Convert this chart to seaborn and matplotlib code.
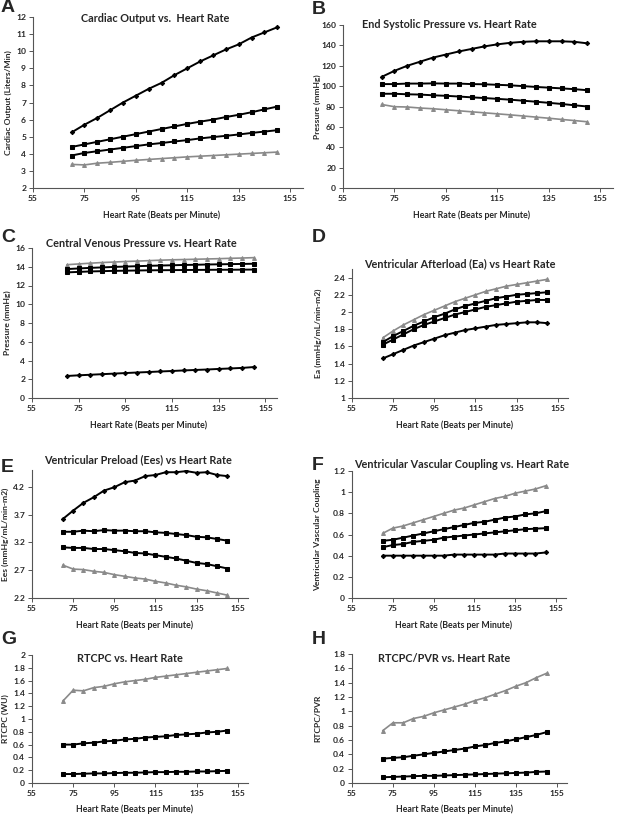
import numpy as np
import pandas as pd
import matplotlib
matplotlib.use("Agg")
import matplotlib.pyplot as plt
import seaborn as sns
from matplotlib.ticker import FuncFormatter

sns.set_theme(style="white")
plt.rcParams['font.family'] = ['Lato', 'DejaVu Sans']

heart_rate = [70, 75, 80, 85, 90, 95, 100, 105, 110, 115, 120, 125, 130, 135, 140, 145, 150]

# A: Cardiac output
co_diamond = [5.25, 5.7, 6.1, 6.55, 7.0, 7.4, 7.8, 8.15, 8.6, 9.0, 9.4, 9.75, 10.1, 10.4, 10.8, 11.1, 11.4]
co_square1 = [4.4, 4.55, 4.7, 4.85, 5.0, 5.15, 5.3, 5.45, 5.6, 5.75, 5.88, 6.0, 6.15, 6.28, 6.43, 6.6, 6.76]
co_square2 = [3.9, 4.05, 4.15, 4.25, 4.35, 4.45, 4.55, 4.63, 4.72, 4.8, 4.9, 4.98, 5.05, 5.13, 5.22, 5.3, 5.38]
co_triangle = [3.38, 3.35, 3.45, 3.5, 3.56, 3.62, 3.67, 3.72, 3.77, 3.82, 3.86, 3.9, 3.94, 3.98, 4.02, 4.06, 4.1]

# B: End systolic pressure
esp_diamond = [109, 115, 120, 124, 128, 131, 134, 136.5, 139, 141, 142.5, 143.5, 144, 144, 144, 143.5, 142]
esp_square1 = [102, 102, 102.5, 102.5, 102.7, 102.5, 102.5, 102, 101.8, 101.3, 100.8, 100, 99.2, 98.5, 97.8, 97, 96]
esp_square2 = [92.5, 92.5, 92, 91.7, 91, 90.5, 89.8, 89, 88.3, 87.5, 86.7, 85.7, 84.7, 83.6, 82.5, 81.2, 80]
esp_triangle = [82, 79.8, 79.5, 78.5, 77.8, 76.8, 75.8, 74.8, 73.8, 72.8, 71.8, 70.7, 69.6, 68.5, 67.3, 66.2, 65]

# C: Central venous pressure
cvp_triangle = [14.22, 14.3, 14.38, 14.45, 14.5, 14.56, 14.6, 14.65, 14.7, 14.74, 14.77, 14.8, 14.83, 14.86, 14.9, 14.93, 14.97]
cvp_square1 = [13.75, 13.82, 13.88, 13.93, 13.98, 14.02, 14.06, 14.1, 14.13, 14.16, 14.19, 14.21, 14.24, 14.26, 14.28, 14.3, 14.32]
cvp_square2 = [13.4, 13.45, 13.5, 13.53, 13.56, 13.58, 13.6, 13.62, 13.63, 13.64, 13.65, 13.66, 13.67, 13.68, 13.68, 13.69, 13.7]
cvp_diamond = [2.35, 2.42, 2.48, 2.54, 2.6, 2.66, 2.72, 2.77, 2.83, 2.88, 2.94, 2.99, 3.04, 3.1, 3.15, 3.21, 3.3]

# D: Ventricular afterload (Ea)
ea_triangle = [1.70, 1.78, 1.85, 1.91, 1.97, 2.02, 2.07, 2.12, 2.16, 2.20, 2.24, 2.27, 2.30, 2.32, 2.34, 2.36, 2.38]
ea_square1 = [1.65, 1.72, 1.78, 1.84, 1.89, 1.94, 1.98, 2.03, 2.07, 2.10, 2.13, 2.16, 2.18, 2.20, 2.21, 2.22, 2.23]
ea_square2 = [1.62, 1.68, 1.74, 1.80, 1.85, 1.89, 1.93, 1.97, 2.00, 2.03, 2.06, 2.08, 2.10, 2.12, 2.13, 2.14, 2.14]
ea_diamond = [1.46, 1.51, 1.56, 1.61, 1.65, 1.69, 1.73, 1.76, 1.79, 1.81, 1.83, 1.85, 1.86, 1.87, 1.88, 1.88, 1.87]

# E: Ventricular preload (Ees)
ees_diamond = [3.62, 3.77, 3.91, 4.01, 4.13, 4.19, 4.28, 4.31, 4.39, 4.41, 4.46, 4.46, 4.48, 4.45, 4.46, 4.41, 4.39]
ees_square1 = [3.39, 3.39, 3.41, 3.40, 3.42, 3.41, 3.41, 3.40, 3.40, 3.38, 3.37, 3.35, 3.33, 3.30, 3.29, 3.26, 3.23]
ees_square2 = [3.11, 3.10, 3.10, 3.08, 3.08, 3.06, 3.04, 3.01, 3.00, 2.97, 2.94, 2.91, 2.87, 2.83, 2.81, 2.77, 2.73]
ees_triangle = [2.79, 2.72, 2.71, 2.68, 2.66, 2.62, 2.59, 2.56, 2.54, 2.50, 2.47, 2.43, 2.40, 2.36, 2.33, 2.29, 2.25]

# F: Ventricular vascular coupling
vvc_triangle = [0.61, 0.66, 0.68, 0.71, 0.74, 0.77, 0.80, 0.83, 0.85, 0.88, 0.91, 0.94, 0.96, 0.99, 1.01, 1.03, 1.06]
vvc_square1 = [0.54, 0.55, 0.57, 0.59, 0.61, 0.63, 0.65, 0.67, 0.69, 0.71, 0.72, 0.74, 0.76, 0.77, 0.79, 0.80, 0.82]
vvc_square2 = [0.48, 0.50, 0.51, 0.53, 0.54, 0.55, 0.57, 0.58, 0.59, 0.60, 0.61, 0.62, 0.63, 0.64, 0.65, 0.655, 0.66]
vvc_diamond = [0.40, 0.40, 0.40, 0.40, 0.40, 0.40, 0.40, 0.41, 0.41, 0.41, 0.41, 0.41, 0.42, 0.42, 0.42, 0.42, 0.43]

# G: RTCPC
rtcpc_triangle = [1.28, 1.45, 1.44, 1.49, 1.51, 1.55, 1.58, 1.60, 1.62, 1.65, 1.67, 1.69, 1.71, 1.73, 1.75, 1.77, 1.79]
rtcpc_square1 = [0.60, 0.60, 0.62, 0.63, 0.65, 0.66, 0.68, 0.69, 0.71, 0.72, 0.73, 0.75, 0.76, 0.77, 0.79, 0.80, 0.82]
rtcpc_square2 = [0.14, 0.14, 0.145, 0.15, 0.15, 0.155, 0.16, 0.16, 0.165, 0.17, 0.17, 0.175, 0.175, 0.18, 0.18, 0.185, 0.19]

# H: RTCPC/PVR
rp_triangle = [0.73, 0.84, 0.84, 0.90, 0.93, 0.98, 1.02, 1.06, 1.10, 1.15, 1.19, 1.24, 1.29, 1.35, 1.40, 1.47, 1.53]
rp_square1 = [0.34, 0.35, 0.36, 0.38, 0.40, 0.42, 0.44, 0.46, 0.48, 0.51, 0.53, 0.56, 0.58, 0.61, 0.64, 0.67, 0.71]
rp_square2 = [0.08, 0.085, 0.09, 0.095, 0.10, 0.10, 0.105, 0.11, 0.115, 0.12, 0.125, 0.13, 0.135, 0.14, 0.145, 0.155, 0.16]

x_ticks = [55, 75, 95, 115, 135, 155]
x_label = "Heart Rate (Beats per Minute)"

W, H = 622, 814
fig = plt.figure(figsize=(W / 100, H / 100), dpi=100)

STYLES = {
    'diamond': dict(color='black', marker='D', markersize=2.2, linewidth=1.4),
    'square': dict(color='black', marker='s', markersize=3.4, linewidth=1.4),
    'triangle': dict(color='#8a8a8a', marker='^', markersize=2.8, linewidth=1.2),
}

fmt = FuncFormatter(lambda v, p: f"{round(v, 6):g}")


def panel(rect, series, ylim, yticks, title, title_xy, ylabel, ylabel_x, letter, letter_xy, xlabel_y):
    l, r, t, b = rect
    ax = fig.add_axes([l / W, 1 - b / H, (r - l) / W, (b - t) / H])
    for kind, vals in series:
        df = pd.DataFrame({'hr': heart_rate, 'v': vals})
        st = STYLES[kind]
        sns.lineplot(data=df, x='hr', y='v', ax=ax, color=st['color'], marker=st['marker'],
                     markersize=st['markersize'], linewidth=st['linewidth'],
                     markeredgecolor=st['color'], markerfacecolor=st['color'])
    ax.set_xlim(55, 160)
    ax.set_ylim(*ylim)
    ax.set_xticks(x_ticks)
    ax.set_yticks(yticks)
    ax.yaxis.set_major_formatter(fmt)
    ax.set_xlabel('')
    ax.set_ylabel('')
    for s in ['top', 'right']:
        ax.spines[s].set_visible(False)
    for s in ['left', 'bottom']:
        ax.spines[s].set_color('#555555')
        ax.spines[s].set_linewidth(0.8)
    ax.tick_params(axis='both', which='major', direction='out', length=3, width=0.7,
                   color='#555555', labelsize=6.1, pad=2, bottom=True, left=True)
    for lab in ax.get_xticklabels() + ax.get_yticklabels():
        lab.set_fontweight('bold')
    ax.patch.set_alpha(0)
    fig.text(title_xy[0] / W, 1 - title_xy[1] / H, title, ha='center', va='center',
             fontsize=7.8, fontweight='bold')
    fig.text(ylabel_x / W, 1 - (t + b) / 2 / H, ylabel, ha='center', va='center',
             rotation=90, fontsize=6.1, fontweight='bold')
    fig.text(letter_xy[0] / W, 1 - letter_xy[1] / H, letter, ha='left', va='center',
             fontsize=14, fontweight='bold', family=['Liberation Sans', 'DejaVu Sans'])
    fig.text(((l + (r - l) * (105 - 55) / 105)) / W, 1 - xlabel_y / H, x_label,
             ha='center', va='center', fontsize=6.3, fontweight='bold')
    return ax


panel((33, 303, 17, 188),
      [('diamond', co_diamond), ('square', co_square1), ('square', co_square2), ('triangle', co_triangle)],
      (2, 12), np.arange(2, 12.01, 1), "Cardiac Output vs.  Heart Rate", (155, 19),
      "Cardiac Output (Liters/Min)", 8, "A", (1, 8), 215)

panel((343, 613, 25, 188),
      [('diamond', esp_diamond), ('square', esp_square1), ('square', esp_square2), ('triangle', esp_triangle)],
      (0, 160), np.arange(0, 160.1, 20), "End Systolic Pressure vs. Heart Rate", (449, 24),
      "Pressure (mmHg)", 317, "B", (312, 9), 215)

panel((32, 277, 248, 398),
      [('triangle', cvp_triangle), ('square', cvp_square1), ('square', cvp_square2), ('diamond', cvp_diamond)],
      (0, 16), np.arange(0, 16.1, 2), "Central Venous Pressure vs. Heart Rate", (141, 244),
      "Pressure (mmHg)", 7, "C", (1, 238), 425)

panel((352, 568, 269, 398),
      [('triangle', ea_triangle), ('square', ea_square1), ('square', ea_square2), ('diamond', ea_diamond)],
      (1, 2.5), np.arange(1, 2.41, 0.2), "Ventricular Afterload (Ea) vs Heart Rate", (460, 264),
      "Ea (mmHg/mL/min-m2)", 318, "D", (312, 237), 425)

panel((32, 248, 470, 598),
      [('diamond', ees_diamond), ('square', ees_square1), ('square', ees_square2), ('triangle', ees_triangle)],
      (2.2, 4.5), [2.2, 2.7, 3.2, 3.7, 4.2], "Ventricular Preload (Ees) vs Heart Rate", (138, 460),
      "Ees (mmHg/mL/min-m2)", 5, "E", (1, 467), 625)

panel((352, 566, 471, 598),
      [('triangle', vvc_triangle), ('square', vvc_square1), ('square', vvc_square2), ('diamond', vvc_diamond)],
      (0, 1.2), np.arange(0, 1.21, 0.2), "Ventricular Vascular Coupling vs. Heart Rate", (462, 465),
      "Ventricular Vascular Coupling", 318, "F", (312, 465), 625)

panel((32, 248, 655, 783),
      [('triangle', rtcpc_triangle), ('square', rtcpc_square1), ('square', rtcpc_square2)],
      (0, 2), np.arange(0, 2.01, 0.2), "RTCPC vs. Heart Rate", (130, 658),
      "RTCPC (WU)", 5, "G", (1, 639), 809)

panel((352, 567, 654, 783),
      [('triangle', rp_triangle), ('square', rp_square1), ('square', rp_square2)],
      (0, 1.8), np.arange(0, 1.81, 0.2), "RTCPC/PVR vs. Heart Rate", (444, 658),
      "RTCPC/PVR", 318, "H", (312, 640), 809)

fig.savefig("out.png", dpi=100, facecolor='white')
